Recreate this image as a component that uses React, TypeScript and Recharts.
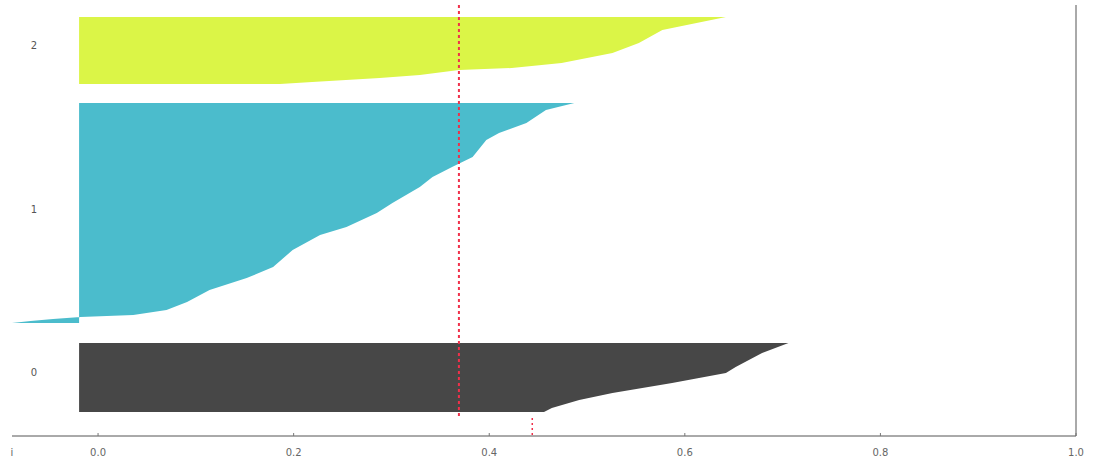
import { Area, ComposedChart, ReferenceLine, XAxis, YAxis } from 'recharts'

// silhouette value per sample row (y = sample position, counted from the bottom)
const cluster0 = [
  { y: 93, s: 0.706 },
  { y: 83, s: 0.679 },
  { y: 69, s: 0.652 },
  { y: 63, s: 0.642 },
  { y: 53, s: 0.587 },
  { y: 43, s: 0.526 },
  { y: 36, s: 0.492 },
  { y: 28, s: 0.464 },
  { y: 24, s: 0.456 },
]

const cluster1 = [
  { y: 333, s: 0.487 },
  { y: 326, s: 0.458 },
  { y: 313, s: 0.438 },
  { y: 303, s: 0.41 },
  { y: 296, s: 0.397 },
  { y: 279, s: 0.383 },
  { y: 269, s: 0.362 },
  { y: 259, s: 0.342 },
  { y: 249, s: 0.329 },
  { y: 233, s: 0.301 },
  { y: 223, s: 0.285 },
  { y: 209, s: 0.254 },
  { y: 201, s: 0.227 },
  { y: 186, s: 0.199 },
  { y: 169, s: 0.179 },
  { y: 158, s: 0.152 },
  { y: 146, s: 0.114 },
  { y: 134, s: 0.091 },
  { y: 126, s: 0.07 },
  { y: 121, s: 0.036 },
  { y: 119, s: -0.018 },
  { y: 117, s: -0.046 },
  { y: 115, s: -0.069 },
  { y: 113, s: -0.088 },
]

const cluster2 = [
  { y: 419, s: 0.642 },
  { y: 406, s: 0.577 },
  { y: 393, s: 0.553 },
  { y: 383, s: 0.526 },
  { y: 373, s: 0.474 },
  { y: 368, s: 0.423 },
  { y: 366, s: 0.369 },
  { y: 361, s: 0.329 },
  { y: 358, s: 0.288 },
  { y: 354, s: 0.219 },
  { y: 352, s: 0.186 },
]

const clusterLabels = ['0', '1', '2']
const clusterCenters = [64, 227, 391]

const xTicks = [-0.088, 0, 0.2, 0.4, 0.6, 0.8, 1.0]
const xTickLabels = ['i', '0.0', '0.2', '0.4', '0.6', '0.8', '1.0']

const avgScore = 0.369
const otherMark = 0.444
const BASE = -0.0194

const XTick = (props: any) => {
  const { x, y, payload, index } = props
  return (
    <g>
      {index > 0 && <line x1={x} x2={x} y1={y - 3} y2={y} stroke="#777" />}
      <text
        x={x}
        y={y + 20}
        textAnchor="middle"
        fontSize={10}
        fill="#666"
        fontFamily="DejaVu Sans, sans-serif"
      >
        {xTickLabels[xTicks.indexOf(payload.value)]}
      </text>
    </g>
  )
}

const YTick = (props: any) => {
  const { y, payload } = props
  return (
    <text
      x={34}
      y={y + 4}
      textAnchor="middle"
      fontSize={10}
      fill="#555"
      fontFamily="DejaVu Sans, sans-serif"
    >
      {clusterLabels[clusterCenters.indexOf(payload.value)]}
    </text>
  )
}

export default function App() {
  return (
    <div style={{ position: 'absolute', left: 0, top: 0, background: '#fff' }}>
      <ComposedChart
        layout="vertical"
        width={1094}
        height={470}
        margin={{ top: 5, right: 18, bottom: 4, left: 11 }}
      >
        <XAxis
          type="number"
          domain={[-0.088, 1.0]}
          ticks={xTicks}
          interval={0}
          tick={<XTick />}
          tickLine={false}
          tickSize={0}
          tickMargin={0}
          height={30}
          stroke="#555"
          allowDataOverflow
        />
        <YAxis
          type="number"
          dataKey="y"
          domain={[0, 431]}
          reversed
          ticks={clusterCenters}
          interval={0}
          tick={<YTick />}
          axisLine={false}
          tickLine={false}
          width={1}
          allowDataOverflow
        />
        <Area
          data={cluster2}
          dataKey="s"
          type="linear"
          baseValue={BASE}
          fill="#dbf547"
          fillOpacity={1}
          stroke="none"
          dot={false}
          activeDot={false}
          isAnimationActive={false}
        />
        <Area
          data={cluster1}
          dataKey="s"
          type="linear"
          baseValue={BASE}
          fill="#4bbccc"
          fillOpacity={1}
          stroke="none"
          dot={false}
          activeDot={false}
          isAnimationActive={false}
        />
        <Area
          data={cluster0}
          dataKey="s"
          type="linear"
          baseValue={BASE}
          fill="#474747"
          fillOpacity={1}
          stroke="none"
          dot={false}
          activeDot={false}
          isAnimationActive={false}
        />
        <ReferenceLine x={1.0} stroke="#555" />
        <ReferenceLine
          segment={[
            { x: avgScore, y: 431 },
            { x: avgScore, y: 18 },
          ]}
          stroke="#f0304a"
          strokeWidth={2}
          strokeDasharray="3 3"
        />
        <ReferenceLine
          segment={[
            { x: otherMark, y: 18 },
            { x: otherMark, y: 0 },
          ]}
          stroke="#f0304a"
          strokeWidth={1.5}
          strokeDasharray="2 3"
        />
      </ComposedChart>
    </div>
  )
}
